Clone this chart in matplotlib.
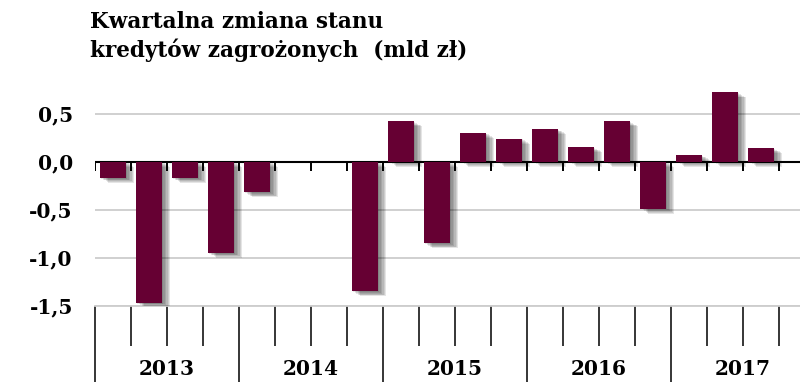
import numpy as np
import matplotlib
matplotlib.use("Agg")
from matplotlib import pyplot as plt
from matplotlib import patheffects as pe
from matplotlib.transforms import blended_transform_factory

# quarterly change, 2013 Q1 .. 2017 Q3 (bn PLN)
values = [-0.17, -1.47, -0.17, -0.95,
          -0.32, 0.0, 0.0, -1.35,
          0.42, -0.85, 0.30, 0.24,
          0.34, 0.15, 0.42, -0.49,
          0.07, 0.72, 0.14]
years = ["2013", "2014", "2015", "2016", "2017"]
yticks = [-1.5, -1.0, -0.5, 0.0, 0.5]
ytick_labels = ["-1,5", "-1,0", "-0,5", "0,0", "0,5"]

bar_color = "#660033"
grid_color = "#cdcdcd"
font = {"family": "DejaVu Serif", "weight": "bold"}

fig = plt.figure(figsize=(8, 3.82), dpi=100)
ax = fig.add_axes([95/800, 76.3/382, 705/800, 221/382])

x = np.arange(len(values))
shadow = [pe.SimplePatchShadow(offset=(d, -0.6*d), shadow_rgbFace="k", alpha=0.1)
          for d in (1.0, 2.0, 3.0, 4.0, 5.0, 6.0)] + [pe.Normal()]
bars = ax.bar(x, values, width=0.72, color=bar_color, zorder=3)
for b in bars:
    b.set_path_effects(shadow)

ax.set_xlim(-0.5, 19.08)
ax.set_ylim(-1.5, 0.8)

# y axis: gridlines + labels only
ax.set_yticks(yticks)
ax.set_yticklabels(ytick_labels, fontdict=font, fontsize=14.5)
ax.tick_params(axis="y", length=0, pad=16)
ax.grid(axis="y", color=grid_color, lw=1.3, zorder=0)

for s in ("left", "right", "top"):
    ax.spines[s].set_visible(False)

edges = np.arange(len(values) + 1) - 0.5
year_edges = edges[::4]

# bottom axis: long year separators, shorter quarter ticks
ax.set_xticks(year_edges)
ax.set_xticks([e for e in edges if e not in year_edges], minor=True)
ax.tick_params(axis="x", which="major", length=56, width=1.1, labelbottom=False)
ax.tick_params(axis="x", which="minor", length=29, width=1.1, labelbottom=False)
ax.spines["bottom"].set_color(grid_color)
ax.spines["bottom"].set_linewidth(1.3)

# zero line with short quarter ticks
ax.axhline(0, color="k", lw=1.5, zorder=2.5)
ax.vlines(edges, -0.1, 0, color="k", lw=1.4, zorder=2.5)

tr = blended_transform_factory(ax.transData, fig.transFigure)
for i, yr in enumerate(years):
    ax.text(4*i + 1.5, 0.035, yr, transform=tr, ha="center", va="center",
            fontdict=font, fontsize=14.5)

fig.text(90/800, 0.972, "Kwartalna zmiana stanu\nkredytów zagrożonych  (mld zł)",
         ha="left", va="top", fontdict=font, fontsize=15.5, linespacing=1.3)

fig.savefig("out.png", dpi=100)
